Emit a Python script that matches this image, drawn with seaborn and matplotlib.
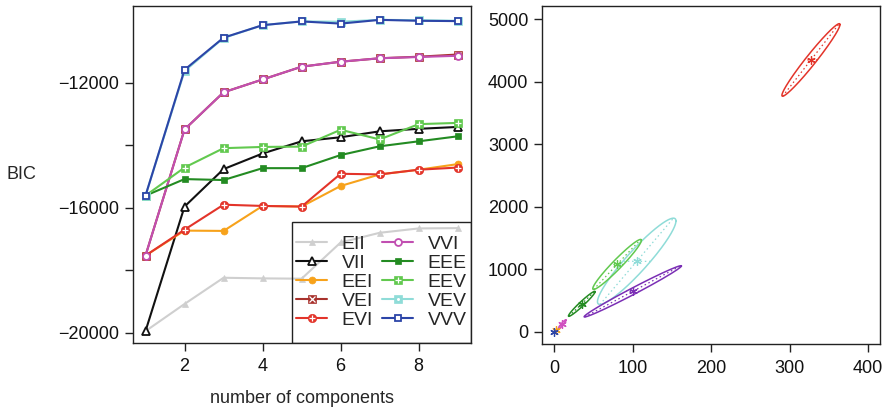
"""BIC curves for mclust models and fitted component ellipses."""

import numpy as np
import pandas as pd
import matplotlib
matplotlib.use("Agg")
import matplotlib.pyplot as plt
from matplotlib.legend_handler import HandlerTuple
from matplotlib.patches import Rectangle
import seaborn as sns

# ---- left panel: BIC by number of components -------------------------
n_components = [1, 2, 3, 4, 5, 6, 7, 8, 9]
models = ["EII", "VII", "EEI", "VEI", "EVI", "VVI", "EEE", "EEV", "VEV", "VVV"]

bic_EII = [-19950, -19080, -18240, -18260, -18270, -17110, -16800, -16660, -16650]
bic_VII = [-19950, -15960, -14760, -14260, -13870, -13740, -13550, -13470, -13410]
bic_EEI = [-17530, -16730, -16740, -15940, -15960, -15300, -14930, -14780, -14600]
bic_VEI = [-17530, -13490, -12300, -11890, -11480, -11320, -11210, -11160, -11090]
bic_EVI = [-17530, -16700, -15900, -15940, -15960, -14910, -14930, -14780, -14710]
bic_VVI = [-17530, -13490, -12300, -11890, -11480, -11320, -11210, -11170, -11130]
bic_EEE = [-15610, -15080, -15110, -14730, -14730, -14310, -14030, -13870, -13710]
bic_EEV = [-15610, -14710, -14090, -14050, -14040, -13500, -13810, -13320, -13280]
bic_VEV = [-15610, -11620, -10560, -10150, -10030, -10040, -9980, -9990, -10010]
bic_VVV = [-15610, -11580, -10550, -10150, -10030, -10100, -9980, -10010, -10020]

bic_values = [bic_EII, bic_VII, bic_EEI, bic_VEI, bic_EVI,
              bic_VVI, bic_EEE, bic_EEV, bic_VEV, bic_VVV]

model_colors = ["#cfcfcf", "#111111", "#f7a21b", "#a8322d", "#e3342a",
                "#c14fb1", "#238b22", "#62c94f", "#8fdcd8", "#2c45a8"]
model_markers = ["^", "^", "o", "s", "o", "o", "s", "s", "s", "s"]
model_open = [False, True, False, False, False, True, False, False, False, True]
model_msize = [4.5, 5.5, 5, 5.5, 6, 5, 5, 5.5, 5.5, 4.8]
# small white symbol drawn inside some markers (R pch 7, 10, 12, 13 look)
model_inner = [None, None, None, "x", "+", None, None, "+", ".", None]

# ---- right panel: fitted components (mean, spread, correlation) -------
comp_colors = ["#e3342a", "#8fdcd8", "#62c94f", "#238b22", "#7b2fb5",
               "#d050c0", "#f7a21b", "#2c45a8"]
comp_mean_x = [327, 105, 80, 35, 100, 10, 2, 0]
comp_mean_y = [4350, 1130, 1080, 450, 650, 120, 25, 0]
comp_sd_x = [37, 50, 31, 17, 62, 5, 2, 1.5]
comp_sd_y = [580, 690, 400, 200, 410, 75, 18, 12]
comp_rho = [0.975, 0.935, 0.965, 0.97, 0.99, 0.93, 0.8, 0.8]

sns.set_theme(style="white")
plt.rcParams["font.family"] = ["Liberation Sans", "DejaVu Sans"]
plt.rcParams["axes.unicode_minus"] = True

fig = plt.figure(figsize=(8.88, 4.08), dpi=100)
ax1 = fig.add_axes([0.1498, 0.1593, 0.3806, 0.8257])
ax2 = fig.add_axes([0.6107, 0.1561, 0.3803, 0.8285])

df = pd.DataFrame({
    "k": np.tile(n_components, len(models)),
    "BIC": np.concatenate(bic_values),
    "model": np.repeat(models, len(n_components)),
})

handles = []
for m, col, mk, is_open, ms, inner in zip(models, model_colors, model_markers,
                                          model_open, model_msize, model_inner):
    sub = df[df["model"] == m]
    sns.lineplot(data=sub, x="k", y="BIC", ax=ax1, color=col, lw=1.5,
                 marker=mk, markersize=ms,
                 markerfacecolor="white" if is_open else col,
                 markeredgecolor=col, markeredgewidth=1.3 if is_open else 0.5)
    line = ax1.lines[-1]
    if inner is not None:
        dot = ax1.plot(sub["k"], sub["BIC"], ls="none", marker=inner,
                       markersize=2.5 if inner == "." else 4,
                       color="white", mew=0.9)[0]
        handles.append((line, dot))
    else:
        handles.append(line)

ax1.set_xlim(0.68, 9.34)
ax1.set_ylim(-20330, -9540)
ax1.set_xticks([2, 4, 6, 8])
ax1.set_yticks([-20000, -16000, -12000])
ax1.set_yticks([-18000, -14000], minor=True)
ax1.set_xlabel("number of components", fontsize=13)
ax1.set_ylabel("BIC", fontsize=13, rotation=0, ha="center", va="center")
ax1.yaxis.set_label_coords(-0.33, 0.5)
ax1.xaxis.set_label_coords(0.5, -0.14)

# legend frame drawn separately (R legend box has extra vertical padding,
# and no fill, so the curves show through)
ax1.add_patch(Rectangle((0.470, 0.0), 0.530, 0.359, transform=ax1.transAxes,
                        facecolor="none", edgecolor="#222222", lw=1.0,
                        zorder=4))
leg = ax1.legend(handles, models, ncol=2, loc="center",
                 bbox_to_anchor=(0.735, 0.181), borderpad=0, fontsize=14,
                 frameon=False, handlelength=1.6, handletextpad=0.75,
                 columnspacing=0.45, labelspacing=0.08,
                 handler_map={tuple: HandlerTuple(ndivide=1)})
leg.set_zorder(5)

# ellipses
t = np.linspace(0, 2 * np.pi, 200)
for col, mx, my, sx, sy, r in zip(comp_colors, comp_mean_x, comp_mean_y,
                                  comp_sd_x, comp_sd_y, comp_rho):
    cov = np.array([[sx ** 2, r * sx * sy], [r * sx * sy, sy ** 2]])
    chol = np.linalg.cholesky(cov)
    pts = chol @ np.vstack([np.cos(t), np.sin(t)])
    sns.lineplot(x=mx + pts[0], y=my + pts[1], sort=False, estimator=None,
                 ax=ax2, color=col, lw=1.1)
    vals, vecs = np.linalg.eigh(cov)
    for j in range(2):
        d = np.sqrt(vals[j]) * vecs[:, j]
        ax2.plot([mx - d[0], mx + d[0]], [my - d[1], my + d[1]],
                 color=col, lw=0.9, ls=(0, (1.2, 2.2)))
    ax2.plot(mx, my, marker=(6, 2, 0), color=col, markersize=6, mew=0.9)

ax2.set_xlim(-15.3, 415)
ax2.set_ylim(-197, 5208)
ax2.set_xticks([0, 100, 200, 300, 400])
ax2.set_yticks([0, 1000, 2000, 3000, 4000, 5000])

for ax in (ax1, ax2):
    for s in ax.spines.values():
        s.set_visible(True)
        s.set_color("#222222")
        s.set_linewidth(1.0)
    ax.tick_params(axis="both", which="both", direction="out", length=6,
                   width=1.0, color="#222222", labelsize=13,
                   left=True, bottom=True, labelcolor="#111111")
    ax.tick_params(axis="x", pad=5)
    ax.tick_params(axis="y", pad=4)
    ax.set_facecolor("white")
    ax.grid(False)
ax2.set_xlabel("")
ax2.set_ylabel("")

fig.savefig("out.png", dpi=100)
